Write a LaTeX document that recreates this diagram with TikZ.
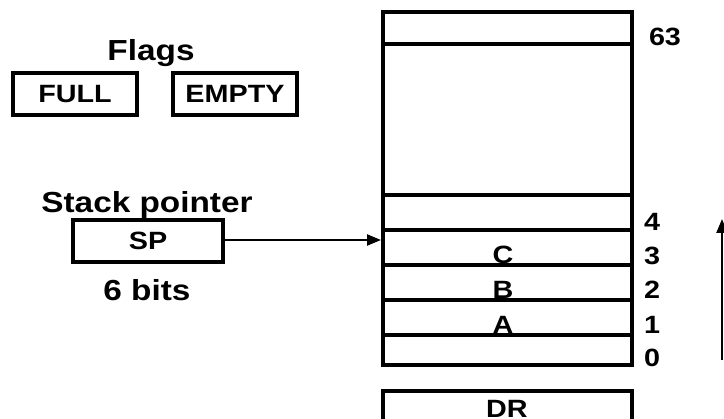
\documentclass[tikz,border=0pt]{standalone}
\usepackage{fontspec}
\setmainfont{Liberation Sans}[FakeStretch=1.15]
\usetikzlibrary{arrows.meta}
\tikzset{
  lbl/.style={font=\fontsize{29}{33}\selectfont\bfseries, inner sep=0pt},
  small/.style={font=\fontsize{25}{29}\selectfont\bfseries, inner sep=0pt},
  regbox/.style={draw, line width=3.5pt, inner sep=0pt},
  cellline/.style={line width=3.3pt},
  ptr/.style={line width=2.2pt, -{Triangle[length=14pt,width=11pt]}}
}
\begin{document}
\begin{tikzpicture}[x=1pt,y=-1pt]
\useasboundingbox (0,0) rectangle (724,419);
% flag registers
\node[lbl] (flags) at (151,53) {Flags};
\node[regbox, minimum width=124pt, minimum height=42pt] (full) at (75,94) {};
\node[small] (fulltxt) at (full.center) {FULL};
\node[regbox, minimum width=124pt, minimum height=42pt] (empty) at (235,94) {};
\node[small] (emptytxt) at (empty.center) {EMPTY};
% stack pointer
\node[lbl] (sptitle) at (147,205) {Stack pointer};
\node[regbox, minimum width=150pt, minimum height=42pt] (sp) at (148,241) {};
\node[small] (sptxt) at (sp.center) {SP};
\node[lbl] (bits) at (147,290) {6 bits};
% stack memory
\node[small, anchor=base] (c) at (503,264) {C};
\node[small, anchor=base] (b) at (503,299) {B};
\node[small, anchor=base] (a) at (503,334) {A};
\draw[cellline] (383,44) -- (632,44);
\draw[cellline] (383,195) -- (632,195);
\draw[cellline] (383,230) -- (632,230);
\draw[cellline] (383,265) -- (632,265);
\draw[cellline] (383,300) -- (632,300);
\draw[cellline] (383,335) -- (632,335);
\node[regbox, minimum width=249pt, minimum height=353pt] (stack) at (507.5,188.5) {};
\coordinate (sptarget) at (381,240);
\draw[ptr] (sp.east |- sptarget) -- (sptarget);
% addresses
\node[small] (a63) at (665,37) {63};
\node[small] (a4) at (652,222) {4};
\node[small] (a3) at (652,256) {3};
\node[small] (a2) at (652,290) {2};
\node[small] (a1) at (652,325) {1};
\node[small] (a0) at (652,358) {0};
% data register
\node[regbox, minimum width=249pt, minimum height=60pt] (dr) at (507.5,421) {};
\node[small, anchor=base] (drtxt) at (507,418) {DR};
% growth direction
\coordinate (grlow) at (722,360);
\coordinate (grhigh) at (722,219);
\draw[ptr] (grlow) -- (grhigh);
\end{tikzpicture}
\end{document}
